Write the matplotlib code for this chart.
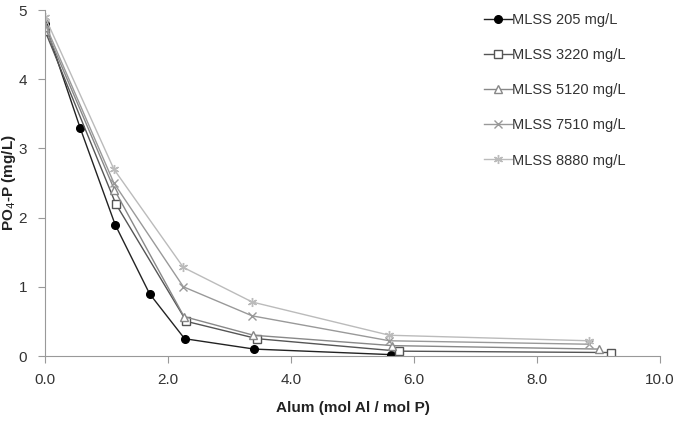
import matplotlib
matplotlib.use("Agg")
import matplotlib.pyplot as plt

plt.rcParams['font.family'] = ['Liberation Sans', 'DejaVu Sans']

labels = ["MLSS 205 mg/L", "MLSS 3220 mg/L", "MLSS 5120 mg/L", "MLSS 7510 mg/L", "MLSS 8880 mg/L"]
x205 = [0.0, 0.57, 1.14, 1.70, 2.27, 3.40, 5.62]
y205 = [4.80, 3.30, 1.90, 0.90, 0.25, 0.10, 0.02]
x3220 = [0.0, 1.15, 2.30, 3.45, 5.75, 9.20]
y3220 = [4.70, 2.20, 0.50, 0.25, 0.07, 0.05]
x5120 = [0.0, 1.13, 2.26, 3.39, 5.65, 9.00]
y5120 = [4.75, 2.40, 0.57, 0.30, 0.15, 0.10]
x7510 = [0.0, 1.12, 2.25, 3.37, 5.60, 8.85]
y7510 = [4.80, 2.50, 1.00, 0.58, 0.22, 0.17]
x8880 = [0.0, 1.12, 2.25, 3.37, 5.60, 8.85]
y8880 = [4.90, 2.70, 1.28, 0.78, 0.30, 0.22]

fig = plt.figure(figsize=(6.75, 4.25), dpi=100)
ax = fig.add_axes([45/675, 1-356/425, (660-45)/675, (356-10)/425])

ax.plot(x205, y205, color='#222222', lw=1.0, marker='o', ms=5.5, mfc='black', mec='black', label=labels[0])
ax.plot(x3220, y3220, color='#555555', lw=1.0, marker='s', ms=5.5, mfc='white', mec='#555555', label=labels[1])
ax.plot(x5120, y5120, color='#888888', lw=1.0, marker='^', ms=5.5, mfc='white', mec='#888888', label=labels[2])
ax.plot(x7510, y7510, color='#999999', lw=1.0, marker='x', ms=5.5, mec='#999999', label=labels[3])
ax.plot(x8880, y8880, color='#bbbbbb', lw=1.0, marker=(6, 2, 0), ms=6.5, mec='#bbbbbb', label=labels[4])

ax.set_xlim(0, 10)
ax.set_ylim(0, 5)
ax.set_xticks([0, 2, 4, 6, 8, 10])
ax.set_xticklabels(["0.0", "2.0", "4.0", "6.0", "8.0", "10.0"])
ax.set_yticks([0, 1, 2, 3, 4, 5])
for s in ['top', 'right']:
    ax.spines[s].set_visible(False)
for s in ['left', 'bottom']:
    ax.spines[s].set_color('#999999')
ax.tick_params(direction='out', color='#999999', labelsize=11, labelcolor='#333333', length=5)
ax.tick_params(axis='y', pad=8)
ax.tick_params(axis='x', pad=7)
ax.set_xlabel("Alum (mol Al / mol P)", fontsize=11, fontweight='bold', color='#222222', labelpad=10)
ax.set_ylabel("PO$_4$-P (mg/L)", fontsize=11, fontweight='bold', color='#222222')
ax.yaxis.set_label_coords(-27/615, 0.5)

leg = fig.legend(loc='upper left', bbox_to_anchor=(484/675, 1 - 13/425), frameon=False, fontsize=10.5,
                 handlelength=1.9, handletextpad=0.0, labelspacing=1.45, borderaxespad=0, borderpad=0)
for t in leg.get_texts():
    t.set_color('#333333')

fig.savefig("out.png", dpi=100)
